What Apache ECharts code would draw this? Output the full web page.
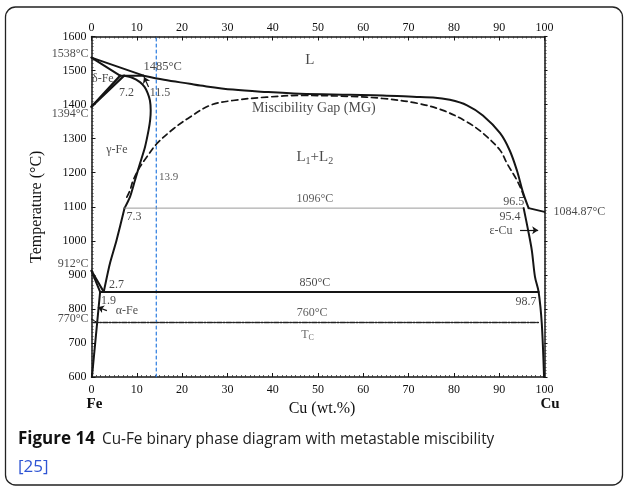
<!DOCTYPE html>
<html><head><meta charset="utf-8">
<script src="https://cdn.jsdelivr.net/npm/echarts@6/dist/echarts.min.js"></script>
<style>html,body{margin:0;padding:0;background:#fff}#c{width:624px;height:489px}</style>
</head><body><div id="c"></div>
<script>
// ---------- data (Cu wt.% , temperature °C) ----------
const liquidusFe = [[0,1538],[11.5,1485]];
const liquidus = [[11.5,1485],[16,1473],[21.7,1461],[24,1456],[31.2,1444],[38.7,1437],[46,1432],[57.1,1429],[64.3,1427],[72.5,1422],[75.4,1421],[79.1,1414],[82.9,1398],[86.4,1368],[90.2,1316],[92.3,1266],[93.9,1207],[95.3,1140],[96.5,1096]];
const liquidusCu = [[96.5,1096],[100,1084.87]];
const deltaSolidus = [[0,1538],[6.3,1485]];
const peritectic = [[6.3,1485],[11.5,1485]];
const deltaGamma1 = [[0,1394],[6.3,1485]];
const deltaGamma2 = [[0,1394],[7.2,1485]];
const gammaSolvusUpper = [[7.2,1485],[9.0,1479],[10.7,1466],[11.7,1452],[12.4,1434],[12.9,1412],[13.07,1383],[12.95,1355],[12.6,1325],[11.8,1275],[10.7,1227],[9.6,1178],[8.5,1129],[7.3,1096]];
const gammaSolvusLower = [[7.3,1096],[5.5,1000],[4.0,930],[2.7,850]];
const misGap = [[7.8,1128],[8.5,1148],[9.2,1178],[10.7,1217],[12.2,1246],[14.4,1285],[18.1,1329],[21.7,1363],[26.2,1398],[31.2,1412],[38.7,1422],[46,1427],[57.1,1424],[64.3,1418],[71.9,1404],[77.6,1383],[82.9,1349],[86.4,1316],[90.2,1266],[91.7,1228],[93.9,1178],[95.2,1140],[95.6,1120]];
const alphaGamma1 = [[0,912],[2.7,850]];
const alphaGamma2 = [[0,912],[1.9,850]];
const alphaSolvus = [[1.9,850],[0.1,600]];
const eutectoid = [[1.9,850],[98.7,850]];
const monotectic = [[7.3,1096],[95.4,1096]];
const curieLine = [[0.4,760],[98.9,760]];
const curieFe = [[0,770],[1.0,762]];
const cuSolvus = [[95.4,1096],[96.4,1030],[97.2,972],[97.9,894],[98.7,850],[99.4,757],[99.9,600]];
const markerComp = [[14.3,600],[14.3,1600]];
const arrows = [[[12.6,1452],[11.6,1481]],[[3.4,795],[1.4,805]],[[94.6,1031],[98.6,1031]]];
const xTickLabels = [0,10,20,30,40,50,60,70,80,90,100];
const yTickLabels = [600,700,800,900,1000,1100,1200,1300,1400,1500,1600];
// annotations: text and anchor in data units
const annText = ['L','Miscibility Gap (MG)','L1+L2','1485°C','δ-Fe','7.2','11.5','γ-Fe','13.9','7.3','2.7','1.9','α-Fe','1096°C','850°C','760°C','Tc','96.5','95.4','ε-Cu','98.7'];
const annX =    [48.2, 49.1, 49.3, 15.7, 2.5, 7.7, 15.1, 5.6, 17.0, 9.4, 5.5, 3.75, 7.8, 49.3, 49.3, 48.7, 47.7, 93.2, 92.4, 90.4, 95.9];
const annT =    [1532, 1388, 1245, 1510, 1477, 1434, 1434, 1266, 1187, 1070, 870, 823, 794, 1122, 876, 787, 723, 1114, 1070, 1028, 821];
const sideText = ['1538°C','1394°C','912°C','770°C'];
const sideT = [1549, 1373, 933, 772];
const cuMeltText = '1084.87°C';
const cuMeltT = 1085;

// ---------- styles ----------
const SERIF = '"Liberation Serif","Times New Roman",serif';
const INK = '#151515';
function ln(data, o) {
  o = o || {};
  return {type:'line', data:data, showSymbol:false, symbol:'none', silent:true, animation:false,
    smooth:o.smooth || false, z:o.z || 3,
    lineStyle:{color:o.color || INK, width:o.width || 2, type:o.type || 'solid', cap:'round', join:'round'}};
}
const sizeOf = {'L':15,'Miscibility Gap (MG)':14,'1485°C':12.5,'13.9':11};
const colorOf = {'1096°C':'#333','760°C':'#333','Tc':'#444','13.9':'#333'};
function labelFor(t) {
  const base = {show:true, position:'inside', fontFamily:SERIF, fontSize:sizeOf[t] || 12, color:colorOf[t] || '#1a1a1a'};
  if (t === 'L1+L2') {
    return Object.assign(base, {formatter:'{m|L}{s|1}{m|+L}{s|2}',
      rich:{m:{fontFamily:SERIF,fontSize:15,lineHeight:18,color:'#1a1a1a'}, s:{fontFamily:SERIF,fontSize:10,lineHeight:8,verticalAlign:'bottom',color:'#1a1a1a'}}});
  }
  if (t === 'Tc') {
    return Object.assign(base, {formatter:'{m|T}{s|C}',
      rich:{m:{fontFamily:SERIF,fontSize:12,lineHeight:14,color:'#444'}, s:{fontFamily:SERIF,fontSize:8,lineHeight:6,verticalAlign:'bottom',color:'#444'}}});
  }
  return Object.assign(base, {formatter:t});
}
const annData = annText.map((t,i)=>({value:[annX[i],annT[i]], label:labelFor(t)}));
const sideData = sideText.map((t,i)=>({value:[0,sideT[i]], label:{show:true, position:'left', distance:3, formatter:t, fontFamily:SERIF, fontSize:12, color:'#1a1a1a'}}));
sideData.push({value:[100,cuMeltT], label:{show:true, position:'right', distance:9, formatter:cuMeltText, fontFamily:SERIF, fontSize:12, color:'#1a1a1a'}});

const axisCommon = {type:'value', min:0, max:100, interval:10,
  axisLine:{show:true, onZero:false, lineStyle:{color:INK, width:1.5}},
  axisTick:{show:true, inside:true, length:4, lineStyle:{color:INK, width:1}},
  minorTick:{show:true, splitNumber:10, length:2, lineStyle:{color:'#333', width:0.8}},
  splitLine:{show:false}};
const yCommon = {type:'value', min:600, max:1600, interval:100,
  axisLine:{show:true, onZero:false, lineStyle:{color:INK, width:1.5}},
  axisTick:{show:true, inside:true, length:4, lineStyle:{color:INK, width:1}},
  minorTick:{show:true, splitNumber:10, length:2, lineStyle:{color:'#333', width:0.8}},
  splitLine:{show:false}};

const series = [
  ln(liquidusFe), ln(liquidus, {smooth:0.35}), ln(liquidusCu),
  ln(deltaSolidus), ln(peritectic), ln(deltaGamma1, {width:2.2}), ln(deltaGamma2, {width:2.2}),
  ln(gammaSolvusUpper, {smooth:0.25}), ln(gammaSolvusLower, {smooth:0.2}),
  ln(misGap, {smooth:0.35, width:1.7, type:[6,4]}),
  ln(alphaGamma1), ln(alphaGamma2), ln(alphaSolvus),
  ln(eutectoid, {width:2}), ln(monotectic, {width:1, color:'#9a9a9a'}),
  ln(curieLine, {width:1.6, type:[5,1.5,1.5,1.5], color:'#222'}), ln(curieFe, {width:1}),
  ln(cuSolvus, {smooth:0.3}),
  ln(markerComp, {width:1.2, color:'#2a7be0', type:[3,3], z:2}),
  {type:'line', data:arrows[0], showSymbol:false, symbol:'none', silent:true, lineStyle:{opacity:0},
    markLine:{silent:true, animation:false, symbol:['none','arrow'], symbolSize:6, label:{show:false},
      lineStyle:{color:INK, width:1.2, type:'solid'},
      data:arrows.map(a=>[{coord:a[0]},{coord:a[1]}])}},
  {type:'scatter', data:annData, symbolSize:0, silent:true, clip:false, z:5},
  {type:'scatter', data:sideData, symbolSize:0, silent:true, clip:false, z:5}
];

const option = {
  animation:false,
  backgroundColor:'#fff',
  textStyle:{fontFamily:SERIF},
  grid:{left:91.5, right:79.5, top:36.5, bottom:112},
  xAxis:[
    Object.assign({}, axisCommon, {position:'bottom', name:'Cu (wt.%)', nameLocation:'middle', nameGap:24, nameMoveOverlap:false,
      nameTextStyle:{fontFamily:SERIF, fontSize:16, color:'#111', padding:[0,0,0,8]},
      axisLabel:{margin:6, color:'#111', formatter:v=> v===0 ? '{n|0}\n{f|Fe}' : (v===100 ? '{n|100}\n{c|Cu}' : '{n|'+v+'}'),
        rich:{n:{fontFamily:SERIF,fontSize:12,lineHeight:13,color:'#111'},
              f:{fontFamily:SERIF,fontSize:15,fontWeight:'bold',lineHeight:17,color:'#111',padding:[0,0,0,6]},
              c:{fontFamily:SERIF,fontSize:15,fontWeight:'bold',lineHeight:17,color:'#111',padding:[0,0,0,11]}}}}),
    Object.assign({}, axisCommon, {position:'top',
      axisLabel:{margin:3, fontFamily:SERIF, fontSize:12, color:'#111'}})
  ],
  yAxis:[
    Object.assign({}, yCommon, {position:'left', name:'Temperature (°C)', nameLocation:'middle', nameGap:47, nameMoveOverlap:false,
      nameTextStyle:{fontFamily:SERIF, fontSize:16, color:'#111'},
      axisLabel:{margin:5, fontFamily:SERIF, fontSize:12, color:'#111', formatter:v=>String(v)}}),
    Object.assign({}, yCommon, {position:'right', axisTick:{show:true, inside:false, length:3, lineStyle:{color:INK}},
      axisLabel:{show:false}})
  ],
  series:series,
  graphic:[
    {type:'rect', silent:true, shape:{x:5.5, y:7, width:617, height:478, r:10}, style:{fill:'none', stroke:'#222', lineWidth:1.3}},
    {type:'text', left:18, top:431, silent:true, style:{text:'Figure 14', font:'bold 17px "Open Sans"', fill:'#111'}},
    {type:'text', left:102, top:431, silent:true, scaleX:0.9, style:{text:'Cu-Fe binary phase diagram with metastable miscibility', font:'17px "Open Sans"', fill:'#222'}},
    {type:'text', left:18, top:459, silent:true, style:{text:'[25]', font:'17px "Open Sans"', fill:'#2f55d4'}}
  ]
};
const chart = echarts.init(document.getElementById('c'), null, {renderer:'canvas'});
chart.setOption(option);
</script>
</body></html>
